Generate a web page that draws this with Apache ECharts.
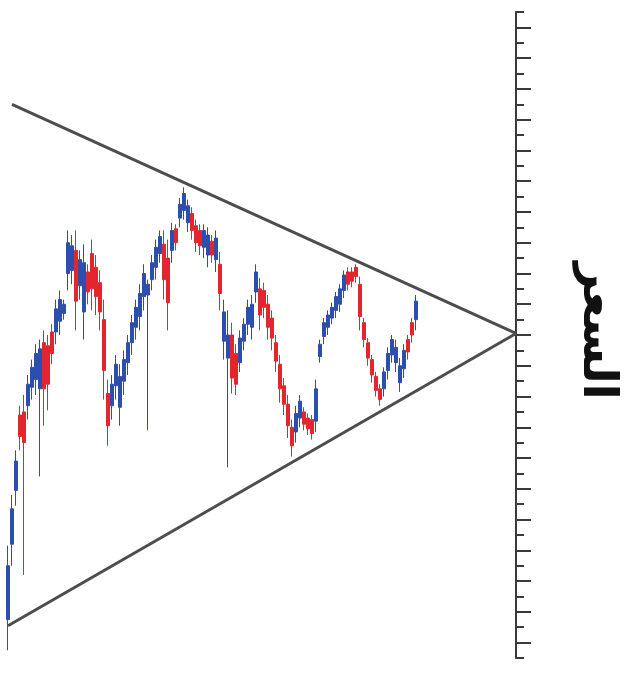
<!DOCTYPE html>
<html>
<head>
<meta charset="utf-8">
<script src="https://cdn.jsdelivr.net/npm/echarts@6/dist/echarts.min.js"></script>
<style>html,body{margin:0;padding:0;background:#fff}#c{width:628px;height:679px}</style>
</head>
<body>
<div id="c"></div>
<script>
// time index categories (0..127; apex of the triangle at the last one)
const categories = Array.from({length: 128}, (_, i) => String(i));

// price bars [index 0..102]
const opens  = [2.5,7.4,10.9,15.8,16.0,16.4,17.6,18.1,17.5,20.5,20.3,21.2,21.2,21.9,22.4,25.0,25.2,26.5,24.2,22.5,25.1,26.3,25.4,24.4,22.0,17.2,16.4,17.7,16.3,18.0,19.2,20.5,21.5,22.2,23.5,23.6,24.6,25.4,26.3,26.9,26.0,26.5,27.9,28.6,29.1,28.3,28.9,28.1,27.8,26.7,26.2,27.1,25.9,25.6,20.6,19.5,21.0,19.8,19.2,20.6,21.7,21.5,23.8,24.0,23.9,23.0,22.1,20.5,19.1,17.7,16.5,15.0,14.7,15.6,16.0,15.6,15.5,15.4,19.6,20.9,21.5,22.1,22.6,23.0,23.9,25.1,25.1,25.4,24.3,21.8,20.5,19.4,18.3,17.5,17.5,18.7,19.7,19.2,17.9,18.8,20.7,21.8,22.0];
const closes = [6.0,9.7,12.8,14.4,14.0,17.8,18.9,19.8,20.1,17.5,17.8,19.8,22.7,23.3,23.0,27.0,26.8,23.2,25.9,25.7,23.8,24.0,23.5,22.5,18.7,15.1,17.8,19.1,18.3,19.4,20.5,21.8,22.8,23.7,25.0,24.3,25.7,26.7,27.4,24.6,23.1,27.8,27.0,29.5,30.2,29.4,27.8,27.0,26.8,27.8,27.5,26.2,27.3,23.7,22.5,21.0,18.2,17.8,20.8,21.7,22.8,23.0,25.1,22.3,22.8,21.5,20.8,19.3,17.5,16.5,15.1,13.8,15.9,16.7,15.2,14.9,14.6,17.5,20.4,21.8,22.3,22.8,23.5,24.0,24.9,24.3,24.5,24.8,22.2,20.7,19.5,18.4,17.4,16.8,18.6,19.8,20.7,20.2,19.0,20.0,19.9,21.0,23.2];
const lows   = [0.5,6.0,9.9,13.5,5.4,15.5,16.8,17.1,11.8,15.1,16.1,19.1,20.4,21.0,22.0,23.9,24.3,21.3,23.3,20.7,23.0,22.6,22.3,21.3,16.8,13.8,15.5,16.8,15.1,17.1,18.4,19.7,20.7,21.3,22.6,14.8,23.9,24.6,25.7,23.3,21.3,25.7,26.5,28.0,28.5,27.7,27.2,26.4,26.2,26.0,25.4,25.7,25.1,22.6,19.4,12.4,17.2,17.1,18.6,20.0,21.0,20.7,23.1,21.3,22.1,20.7,20.0,18.6,16.6,15.8,14.3,13.1,14.0,15.0,14.8,14.5,14.2,14.7,19.2,20.4,21.0,21.7,22.1,22.5,23.4,23.9,24.1,24.4,21.3,20.2,19.0,17.9,17.0,16.4,17.0,18.1,19.2,18.6,17.3,18.2,19.4,20.5,21.3];
const highs  = [7.3,10.6,13.5,16.4,17.1,18.4,19.4,20.4,20.7,21.3,21.0,21.7,23.3,23.9,23.3,27.8,27.5,27.8,26.5,26.9,25.6,27.2,26.2,25.2,23.3,18.1,18.4,19.7,19.1,20.0,21.0,22.3,23.3,24.3,25.6,24.6,26.2,27.2,27.8,27.8,27.2,28.3,28.2,29.9,30.6,29.8,29.3,28.5,28.2,28.2,28.0,27.5,27.8,26.4,23.3,22.6,21.8,20.4,21.3,22.1,23.3,23.6,25.6,24.7,24.4,23.6,22.6,21.0,19.7,18.2,17.1,15.5,16.4,17.1,16.3,15.9,15.8,18.1,20.7,22.1,22.6,23.1,23.8,24.3,25.2,25.4,25.4,25.6,24.8,22.1,20.8,19.7,18.6,17.8,18.9,20.2,21.0,20.7,19.5,20.4,21.0,22.1,23.6];

// triangle trend lines: [category index, price]
const upperLine = [[1, 36.0], [127, 21.1]];
const lowerLine = [[0, 2.1], [127, 21.1]];

// axis tick values (no labels)
const majorTicks = [1,3,5,7,9,11,13,15,17,19,21,23,25,27,29,31,33,35,37,39,41];
const minorTicks = [0,2,4,6,8,10,12,14,16,18,20,22,24,26,28,30,32,34,36,38,40,42];
const axisTitle = 'السعر';

const ohlc = opens.map((o, i) => [o, closes[i], lows[i], highs[i]]);

const chart = echarts.init(document.getElementById('c'), null, {renderer: 'canvas'});
chart.setOption({
  animation: false,
  backgroundColor: '#ffffff',
  grid: {left: 8, right: 112, top: 12, bottom: 21},
  xAxis: {
    type: 'category', data: categories, boundaryGap: false, show: false
  },
  yAxis: [
    {
      type: 'value', min: 0, max: 42, position: 'right',
      axisLine: {show: true, lineStyle: {color: '#3a3a3a', width: 2}},
      axisTick: {show: true, inside: false, length: 15, customValues: majorTicks, lineStyle: {color: '#3a3a3a', width: 2}},
      axisLabel: {show: false},
      splitLine: {show: false}
    },
    {
      type: 'value', min: 0, max: 42, position: 'right',
      axisLine: {show: false},
      axisTick: {show: true, inside: false, length: 8, customValues: minorTicks, lineStyle: {color: '#3a3a3a', width: 2}},
      axisLabel: {show: false},
      splitLine: {show: false}
    }
  ],
  graphic: [{
    type: 'text', x: 596, y: 331, rotation: -Math.PI / 2,
    style: {text: axisTitle, font: 'bold 47px "DejaVu Sans"', fill: '#111', textAlign: 'center', textVerticalAlign: 'middle'}
  }],
  series: [
    {
      type: 'line', data: upperLine, symbol: 'none',
      lineStyle: {color: '#4d4d4d', width: 3}, z: 1
    },
    {
      type: 'line', data: lowerLine, symbol: 'none',
      lineStyle: {color: '#4d4d4d', width: 3}, z: 1
    },
    {
      type: 'candlestick', data: ohlc, barWidth: 4,
      itemStyle: {color: '#2c4fae', color0: '#e3262e', borderColor: '#2c4fae', borderColor0: '#e3262e', borderWidth: 1},
      z: 2
    }
  ]
});
</script>
</body>
</html>
